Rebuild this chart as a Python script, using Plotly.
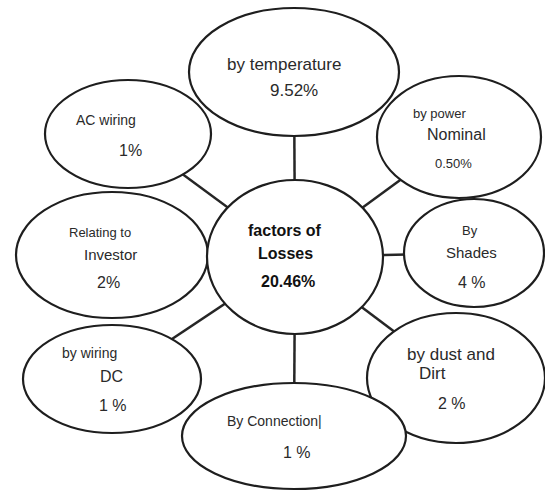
import plotly.graph_objects as go

# ---- data ----
node_names = ["center", "temperature", "ac_wiring", "power", "investor",
              "shades", "dc_wiring", "dust", "connection"]
node_lines = [
    ["factors of", "Losses", "20.46%"],
    ["by temperature", "9.52%"],
    ["AC wiring", "1%"],
    ["by power", "Nominal", "0.50%"],
    ["Relating to", "Investor", "2%"],
    ["By", "Shades", "4 %"],
    ["by wiring", "DC", "1 %"],
    ["by dust and", "Dirt", "2 %"],
    ["By Connection|", "1 %"],
]
links = ["temperature", "ac_wiring", "power", "shades", "dc_wiring", "dust", "connection"]

# ---- layout (pixel space of the 545x491 canvas) ----
ellipse_box = {  # cx, cy, rx, ry
    "temperature": (294, 72, 105, 64),
    "ac_wiring": (128, 134, 83, 54),
    "power": (459, 137, 82, 61),
    "investor": (112, 255, 96, 63),
    "shades": (474, 253, 70, 54),
    "dc_wiring": (112, 379, 89, 54),
    "dust": (456, 378, 89, 65),
    "connection": (294, 436, 112, 53),
    "center": (295, 257, 88, 77),
}
draw_order = ["temperature", "ac_wiring", "power", "investor", "shades",
              "dc_wiring", "dust", "connection", "center"]
text_pos = {  # list of (x, y, size) per line
    "temperature": [(284, 64, 17), (294, 90, 17)],
    "ac_wiring": [(106, 120, 14), (130, 150, 16)],
    "power": [(439, 113, 13), (456, 134, 16), (453, 163, 13)],
    "investor": [(100, 232, 13), (110, 254, 15), (108, 282, 16)],
    "shades": [(470, 230, 13), (471, 252, 15), (472, 282, 16)],
    "dc_wiring": [(89, 353, 14), (111, 376, 16), (113, 405, 16)],
    "dust": [(451, 354, 17), (432, 373, 17), (452, 403, 16)],
    "connection": [(274, 421, 14), (297, 452, 16)],
    "center": [(285, 230, 16), (285, 253, 16), (288, 281, 16)],
}

fig = go.Figure()
shapes = []
cx0, cy0 = ellipse_box["center"][0], ellipse_box["center"][1]
for name in links:
    cx, cy = ellipse_box[name][0], ellipse_box[name][1]
    shapes.append(dict(type="line", x0=cx0, y0=cy0, x1=cx, y1=cy,
                       line=dict(color="#262626", width=2.5)))
for name in draw_order:
    cx, cy, rx, ry = ellipse_box[name]
    shapes.append(dict(type="circle", x0=cx - rx, x1=cx + rx, y0=cy - ry, y1=cy + ry,
                       fillcolor="white", line=dict(color="#1e1e1e", width=2.2)))

annotations = []
for name, lines in zip(node_names, node_lines):
    for txt, (x, y, s) in zip(lines, text_pos[name]):
        bold = name == "center"
        annotations.append(dict(
            x=x, y=y, text=f"<b>{txt}</b>" if bold else txt, showarrow=False,
            xanchor="center", yanchor="middle",
            font=dict(family="Liberation Sans, Arial, sans-serif", size=s,
                      color="#111111" if bold else "#2a2a2a")))

fig.add_trace(go.Scatter(x=[0, 545], y=[0, 491], mode="markers",
                         marker=dict(opacity=0), hoverinfo="skip", showlegend=False))
fig.update_layout(
    width=545, height=491, margin=dict(l=0, r=0, t=0, b=0),
    paper_bgcolor="white", plot_bgcolor="white",
    xaxis=dict(range=[0, 545], visible=False, fixedrange=True),
    yaxis=dict(range=[491, 0], visible=False, fixedrange=True),
    shapes=shapes, annotations=annotations, showlegend=False,
)
fig.write_html("out.html", config={"displayModeBar": False},
               post_script="document.body.style.margin='0';document.body.style.overflow='hidden';")
